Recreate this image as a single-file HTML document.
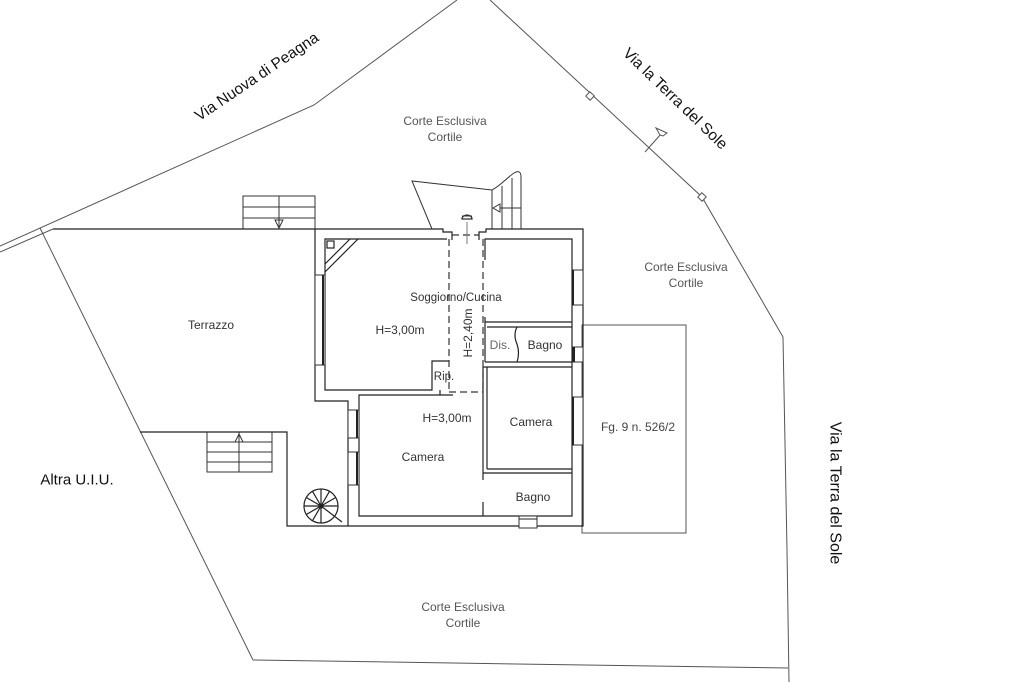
<!DOCTYPE html>
<html><head><meta charset="utf-8"><style>
html,body{margin:0;padding:0;background:#fff;}
svg{display:block;}
text{font-family:"Liberation Sans",Arial,sans-serif;}
</style></head><body>
<svg width="1024" height="682" viewBox="0 0 1024 682" xmlns="http://www.w3.org/2000/svg">
<rect width="1024" height="682" fill="#fff"/>
<!-- boundaries -->
<g fill="none" stroke="#555" stroke-width="1">
  <polyline points="0,246 314,105 457,0"/>
  <line x1="0" y1="252" x2="53" y2="229"/>
  <line x1="40" y1="228" x2="253" y2="660"/>
  <polyline points="253,660 788,668"/>
  <polyline points="490,0 702,197 783,337 787,550 789,682"/>
  <rect x="587" y="93" width="6" height="6" transform="rotate(43 590 96)" fill="#fff"/>
  <rect x="699" y="194" width="6" height="6" transform="rotate(43 702 197)" fill="#fff"/>
  <line x1="645" y1="152" x2="661" y2="134"/>
  <path d="M656,128 L667,133 L663,136 L660,135 Z" fill="#fff"/>
  <rect x="582" y="325" width="104" height="208"/>
</g>

<!-- stairs -->
<g fill="none" stroke="#333" stroke-width="1">
  <rect x="243" y="196" width="72" height="33"/>
  <line x1="243" y1="207" x2="315" y2="207"/>
  <line x1="243" y1="218" x2="315" y2="218"/>
  <line x1="279" y1="196" x2="279" y2="229"/>
  <polygon points="275,220 283,220 279,228"/>
  <rect x="207" y="432" width="65" height="40"/>
  <line x1="207" y1="442" x2="272" y2="442"/>
  <line x1="207" y1="452" x2="272" y2="452"/>
  <line x1="207" y1="462" x2="272" y2="462"/>
  <line x1="239" y1="432" x2="239" y2="472"/>
  <polygon points="235,442 243,442 239,434"/>
</g>

<!-- walls -->
<g fill="none" stroke="#222" stroke-width="1.2">
  <polyline points="53,229 443,229 443,232 452,232 452,240"/>
  <polyline points="479,240 479,232 486,232 486,229 583,229 583,526 287,526 287,432 140,432"/>
  <polyline points="315,229 315,401 348,401 348,526"/>
  <polyline points="447,239 325,239 325,390 432,390 432,361 449,361"/>
  <polyline points="440,390 440,395 453,395 359,395 359,516 572,516 572,239 485,239 485,260"/>
  <line x1="485" y1="317" x2="485" y2="362"/>
  <line x1="483" y1="367" x2="483" y2="480"/>
  <line x1="483" y1="502" x2="483" y2="516"/>
  <line x1="487" y1="367" x2="487" y2="469"/>
  <line x1="485" y1="322" x2="572" y2="322"/>
  <line x1="487" y1="327" x2="572" y2="327"/>
  <line x1="485" y1="362" x2="572" y2="362"/>
  <line x1="483" y1="367" x2="572" y2="367"/>
  <line x1="487" y1="469" x2="572" y2="469"/>
  <line x1="483" y1="473" x2="572" y2="473"/>
  <rect x="327" y="241" width="7" height="7"/>
  <line x1="350" y1="239" x2="325" y2="264"/>
  <line x1="358" y1="239" x2="325" y2="272"/>
  <path d="M517,327 q-4,8 0,17 q3,9 0,18"/>
</g>

<!-- dashed -->
<g fill="none" stroke="#333" stroke-width="1.2" stroke-dasharray="7,4">
  <line x1="449" y1="239" x2="449" y2="392"/>
  <line x1="483" y1="239" x2="483" y2="392"/>
  <line x1="449" y1="392" x2="483" y2="392"/>
  <line x1="452" y1="235" x2="479" y2="235"/>
</g>

<!-- windows -->
<g fill="#fff" stroke="#333" stroke-width="1">
  <rect x="315" y="275" width="10" height="90"/>
  <rect x="572" y="270" width="11" height="35"/>
  <rect x="572" y="347" width="11" height="15"/>
  <rect x="572" y="397" width="11" height="48"/>
  <rect x="348" y="410" width="11" height="28"/>
  <rect x="348" y="452" width="11" height="33"/>
  <rect x="519" y="516" width="18" height="12"/>
</g>
<g stroke="#222" stroke-width="2">
  <line x1="323" y1="275" x2="323" y2="365"/>
  <line x1="573" y1="270" x2="573" y2="305"/>
  <line x1="573.5" y1="347" x2="573.5" y2="362" stroke-width="3"/>
  <line x1="573" y1="397" x2="573" y2="445"/>
  <line x1="357" y1="410" x2="357" y2="438"/>
  <line x1="357" y1="452" x2="357" y2="485"/>
  <line x1="519" y1="519" x2="537" y2="519" stroke-width="1"/>
</g>

<!-- entrance -->
<g fill="none" stroke="#333" stroke-width="1">
  <path d="M432,229 L412,181 L492,190 C500,186 508,177 514,173 Q521,169 521,177 L521,229"/>
  <line x1="492" y1="190" x2="492" y2="229"/>
  <line x1="502" y1="186" x2="502" y2="229"/>
  <line x1="512" y1="178" x2="512" y2="229"/>
  <polygon points="493,208 500,204 500,212"/>
  <line x1="500" y1="208" x2="521" y2="208"/>
  <line x1="467" y1="222" x2="467" y2="244" stroke="#777"/>
  <path d="M462,219 a5,4 0 0 1 10,0 z" fill="#fff" stroke-width="1.3"/>
  <line x1="462" y1="216" x2="472" y2="216"/>
</g>

<!-- spiral stair -->
<g fill="none" stroke="#222" stroke-width="1.2">
  <circle cx="321" cy="506" r="17"/>
  <circle cx="321" cy="506" r="2"/>
  <line x1="321" y1="506" x2="321" y2="489"/>
  <line x1="321" y1="506" x2="329.5" y2="491.3"/>
  <line x1="321" y1="506" x2="335.7" y2="497.5"/>
  <line x1="321" y1="506" x2="338" y2="506"/>
  <line x1="321" y1="506" x2="312.5" y2="491.3"/>
  <line x1="321" y1="506" x2="306.3" y2="497.5"/>
  <line x1="321" y1="506" x2="304" y2="506"/>
  <line x1="321" y1="506" x2="306.3" y2="514.5"/>
  <line x1="321" y1="506" x2="312.5" y2="520.7"/>
  <line x1="321" y1="506" x2="321" y2="523"/>
  <line x1="321" y1="506" x2="342" y2="522"/>
</g>

<!-- labels -->
<g fill="#111" font-size="15.5">
  <text x="257" y="77" text-anchor="middle" dominant-baseline="central" transform="rotate(-34 257 77)">Via Nuova di Peagna</text>
  <text x="675" y="99" text-anchor="middle" dominant-baseline="central" transform="rotate(44 675 99)">Via la Terra del Sole</text>
  <text x="835" y="493" text-anchor="middle" dominant-baseline="central" font-size="16" transform="rotate(90 835 493)">Via la Terra del Sole</text>
  <text x="77" y="480" text-anchor="middle" dominant-baseline="central" font-size="15">Altra U.I.U.</text>
</g>
<g fill="#555" font-size="12" text-anchor="middle" dominant-baseline="central">
  <text x="445" y="121">Corte Esclusiva</text>
  <text x="445" y="137">Cortile</text>
  <text x="686" y="267">Corte Esclusiva</text>
  <text x="686" y="283">Cortile</text>
  <text x="463" y="607">Corte Esclusiva</text>
  <text x="463" y="623">Cortile</text>
</g>
<g fill="#333" font-size="12" text-anchor="middle" dominant-baseline="central">
  <text x="211" y="325">Terrazzo</text>
  <text x="456" y="298" font-size="11.5">Soggiorno/Cucina</text>
  <text x="400" y="330">H=3,00m</text>
  <text x="468" y="333" transform="rotate(-90 468 333)">H=2,40m</text>
  <text x="500" y="345" fill="#666">Dis.</text>
  <text x="545" y="345">Bagno</text>
  <text x="444" y="377" font-size="11.5">Rip.</text>
  <text x="447" y="418">H=3,00m</text>
  <text x="531" y="422">Camera</text>
  <text x="423" y="457">Camera</text>
  <text x="533" y="497">Bagno</text>
  <text x="638" y="427" fill="#444">Fg. 9 n. 526/2</text>
</g>
</svg>
</body></html>
